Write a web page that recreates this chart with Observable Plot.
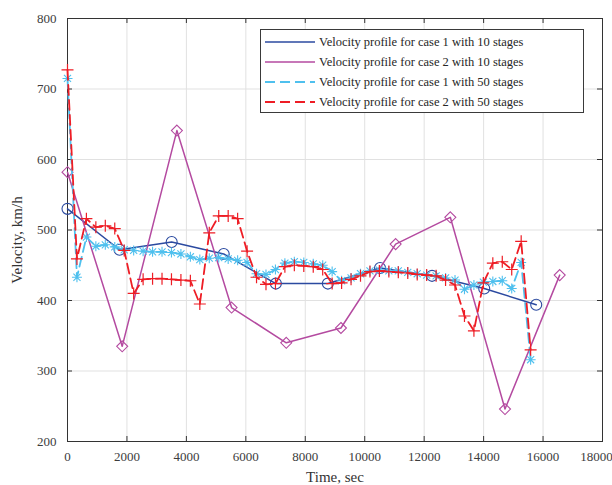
<!DOCTYPE html>
<html><head><meta charset="utf-8">
<script src="https://cdn.jsdelivr.net/npm/d3@7"></script>
<script src="https://cdn.jsdelivr.net/npm/@observablehq/plot@0.6"></script>
<style>
body{margin:0;background:#fff;font-family:"Liberation Serif","Times New Roman",Times,"DejaVu Serif",serif;}
#wrap{position:relative;width:612px;height:485px;}
#wrap svg text{font-family:"Liberation Serif","Times New Roman",Times,"DejaVu Serif",serif;}
#legend{position:absolute;left:260px;top:29px;width:324px;height:84px;border:1px solid #3a3a3a;background:#fff;box-sizing:border-box;font-size:12.5px;color:#262626;}
#legend .row{position:absolute;left:0;height:20px;display:flex;align-items:center;white-space:nowrap;}
#legend svg{margin-left:4px;margin-right:4px;}
#ylab{position:absolute;left:17px;top:240px;transform:translate(-50%,-50%) rotate(-90deg);white-space:nowrap;font-size:15px;color:#333;line-height:1;}
</style></head><body><div id="wrap"></div>
<script>
// Case 1, 10 stages
const time1_10 = [0, 1750, 3505, 5255, 7010, 8760, 10515, 12265, 14020, 15770];
const vel1_10  = [530, 472, 483, 466, 424, 424, 446, 435, 417, 394];
// Case 2, 10 stages
const time2_10 = [0, 1840, 3680, 5520, 7360, 9200, 11040, 12880, 14720, 16560];
const vel2_10  = [582, 335, 641, 390, 340, 361, 480, 518, 246, 436];
// 50-stage time grid (sec)
const time50 = [0, 318, 636, 954, 1272, 1590, 1908, 2226, 2544, 2862,
  3180, 3498, 3816, 4134, 4452, 4770, 5088, 5406, 5724, 6042,
  6360, 6678, 6996, 7314, 7632, 7950, 8268, 8586, 8904, 9222,
  9540, 9858, 10176, 10494, 10812, 11130, 11448, 11766, 12084, 12402,
  12720, 13038, 13356, 13674, 13992, 14310, 14628, 14946, 15264, 15582];
// Case 1, 50 stages
const vel1_50 = [715, 433, 490, 477, 479, 476, 472, 471, 470, 469,
  469, 468, 466, 462, 458, 460, 461, 459, 457, 454,
  438, 437, 444, 453, 455, 454, 452, 450, 441, 428,
  432, 438, 442, 443, 442, 442, 440, 438, 436, 435,
  432, 429, 416, 422, 426, 427, 428, 417, 454, 316];
// Case 2, 50 stages
const vel2_50 = [727, 459, 516, 504, 506, 502, 471, 410, 430, 431,
  431, 430, 429, 428, 395, 496, 520, 520, 516, 470,
  433, 423, 424, 448, 450, 449, 448, 444, 424, 425,
  430, 435, 441, 442, 441, 440, 439, 437, 436, 435,
  429, 422, 378, 357, 425, 453, 455, 444, 484, 330];

const xTicks = [0, 2000, 4000, 6000, 8000, 10000, 12000, 14000, 16000, 18000];
const yTicks = [200, 300, 400, 500, 600, 700, 800];
const xLabel = "Time, sec";
const yLabel = "Velocity, km/h";
const seriesNames = [
  "Velocity profile for case 1 with 10 stages",
  "Velocity profile for case 2 with 10 stages",
  "Velocity profile for case 1 with 50 stages",
  "Velocity profile for case 2 with 50 stages"
];
const colors = ["#2b4aa0", "#b44aa0", "#4fc0ee", "#ee1d25"];
const dashes = [null, null, "10,5", "10,5"];

const toRows = (t, v) => t.map((d, i) => ({t: d, v: v[i]}));
const s1 = toRows(time1_10, vel1_10);
const s2 = toRows(time2_10, vel2_10);
const s3 = toRows(time50, vel1_50);
const s4 = toRows(time50, vel2_50);

const rad = (size) => Math.sqrt(size / Math.PI);
const diamondSym = {draw(ctx, size) {const r = rad(size); ctx.moveTo(0, -r); ctx.lineTo(r, 0); ctx.lineTo(0, r); ctx.lineTo(-r, 0); ctx.closePath();}};
const asteriskSym = {draw(ctx, size) {const r = rad(size), d = r * 0.7071;
  ctx.moveTo(-r, 0); ctx.lineTo(r, 0); ctx.moveTo(0, -r); ctx.lineTo(0, r);
  ctx.moveTo(-d, -d); ctx.lineTo(d, d); ctx.moveTo(-d, d); ctx.lineTo(d, -d);}};
const plusSym = {draw(ctx, size) {const r = rad(size);
  ctx.moveTo(-r, 0); ctx.lineTo(r, 0); ctx.moveTo(0, -r); ctx.lineTo(0, r);}};

const W = 612, H = 485, mL = 67, mR = 10, mT = 18, mB = 44;
const fh = H - mT - mB, fw = W - mL - mR, tl = 5;
const axisColor = "#333333";
const serif = "'Liberation Serif', 'Times New Roman', Times, 'DejaVu Serif', serif";

const chart = Plot.plot({
  width: W, height: H,
  marginLeft: mL, marginRight: mR, marginTop: mT, marginBottom: mB,
  style: {fontFamily: serif, fontSize: "13px", color: "#333", background: "#fff"},
  x: {domain: [0, 18000]},
  y: {domain: [200, 800]},
  marks: [
    Plot.gridX(xTicks, {stroke: "#e1e1e1", strokeOpacity: 1}),
    Plot.gridY(yTicks, {stroke: "#e1e1e1", strokeOpacity: 1}),
    Plot.axisX({ticks: xTicks.slice(0, -1), tickSize: 0, tickPadding: 10, tickFormat: d => String(d), label: null, fill: "#3c3c3c", fontFamily: serif}),
    Plot.axisX({ticks: xTicks.slice(-1), tickSize: 0, tickPadding: 10, dx: -6, tickFormat: d => String(d), label: null, fill: "#3c3c3c", fontFamily: serif}),
    Plot.axisY({ticks: yTicks, tickSize: 0, tickPadding: 11, tickFormat: d => String(d), label: null, fill: "#3c3c3c", fontFamily: serif}),
    // inward ticks on all four sides
    Plot.ruleX(xTicks, {x: d => d, insetTop: fh - tl, stroke: axisColor}),
    Plot.ruleX(xTicks, {x: d => d, insetBottom: fh - tl, stroke: axisColor}),
    Plot.ruleY(yTicks, {y: d => d, insetRight: fw - tl, stroke: axisColor}),
    Plot.ruleY(yTicks, {y: d => d, insetLeft: fw - tl, stroke: axisColor}),
    Plot.frame({stroke: axisColor, strokeWidth: 1}),
    Plot.text([xLabel], {frameAnchor: "bottom", dy: 40, fontSize: 15, fill: "#333", fontFamily: serif}),
    // series
    Plot.line(s1, {x: "t", y: "v", stroke: colors[0], strokeWidth: 1.5}),
    Plot.dot(s1, {x: "t", y: "v", r: 5.5, symbol: "circle", stroke: colors[0], fill: "none", strokeWidth: 1.1}),
    Plot.line(s2, {x: "t", y: "v", stroke: colors[1], strokeWidth: 1.5}),
    Plot.dot(s2, {x: "t", y: "v", r: 5.5, symbol: diamondSym, stroke: colors[1], fill: "none", strokeWidth: 1.1}),
    Plot.line(s3, {x: "t", y: "v", stroke: colors[2], strokeWidth: 1.8, strokeDasharray: dashes[2]}),
    Plot.dot(s3, {x: "t", y: "v", r: 5, symbol: asteriskSym, stroke: colors[2], fill: "none", strokeWidth: 1.1}),
    Plot.line(s4, {x: "t", y: "v", stroke: colors[3], strokeWidth: 1.8, strokeDasharray: dashes[3]}),
    Plot.dot(s4, {x: "t", y: "v", r: 6, symbol: plusSym, stroke: colors[3], fill: "none", strokeWidth: 1.2})
  ]
});

const wrap = document.getElementById("wrap");
wrap.appendChild(chart);

// y-axis title
const yl = document.createElement("div");
yl.id = "ylab";
yl.textContent = yLabel;
wrap.appendChild(yl);

// legend drawn as real text over the axes area
const leg = document.createElement("div");
leg.id = "legend";
seriesNames.forEach((name, i) => {
  const row = document.createElement("div");
  row.className = "row";
  row.style.top = (2 + i * 20) + "px";
  const dash = dashes[i] ? `stroke-dasharray="${dashes[i]}"` : "";
  row.innerHTML = `<svg width="50" height="6"><line x1="0" y1="3" x2="50" y2="3" stroke="${colors[i]}" stroke-width="${dashes[i] ? 1.8 : 1.5}" ${dash}/></svg><span>${name}</span>`;
  leg.appendChild(row);
});
wrap.appendChild(leg);
</script>
</body></html>
